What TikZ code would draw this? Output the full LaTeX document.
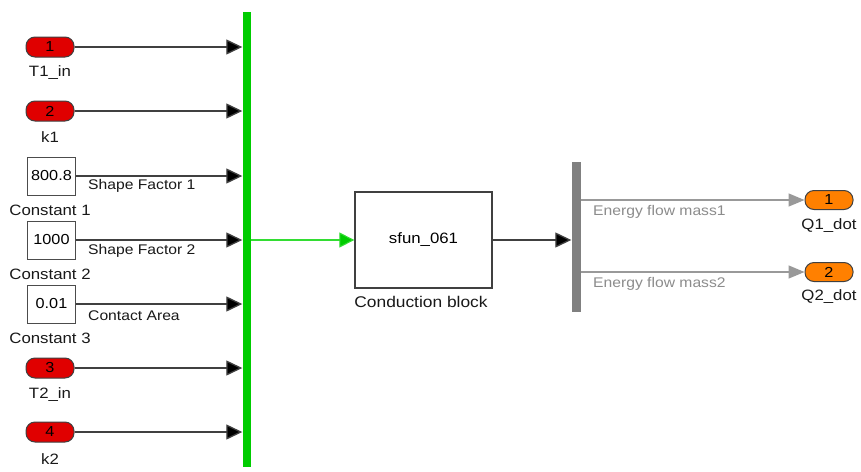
\documentclass[tikz,border=0pt]{standalone}
\usepackage{fontspec}
\setmainfont{Liberation Sans}[FakeStretch=1.12]
\usetikzlibrary{arrows.meta}
\definecolor{inred}{HTML}{E00000}
\definecolor{outorange}{HTML}{FF8000}
\definecolor{busgreen}{HTML}{00CC00}
\definecolor{siggreen}{HTML}{33DD33}
\definecolor{wire}{HTML}{404040}
\definecolor{graywire}{HTML}{999999}
\definecolor{graytext}{HTML}{8C8C8C}
\definecolor{demuxgray}{HTML}{808080}
\tikzset{
  lbl/.style={font=\fontsize{15}{17}\selectfont, text=black!90, inner sep=0pt},
  siglbl/.style={font=\fontsize{14}{16}\selectfont, text=black!90, inner sep=0pt, anchor=west},
  inport/.style={draw=black!75, line width=1pt, fill=inred, rounded corners=9pt,
    minimum width=48pt, minimum height=20pt, inner sep=0pt, font=\fontsize{14.5}{16}\selectfont},
  outport/.style={draw=black!75, line width=1pt, fill=outorange, rounded corners=9pt,
    minimum width=48pt, minimum height=19pt, inner sep=0pt, font=\fontsize{14.5}{16}\selectfont},
  constbox/.style={draw=black!70, line width=1pt, fill=white, minimum width=48pt,
    minimum height=38pt, inner sep=0pt, font=\fontsize{14.5}{16}\selectfont},
  sig/.style={draw=wire, line width=1.3pt, -{Triangle[length=16pt,width=15pt,fill=black]}},
  graysig/.style={draw=graywire, line width=1.3pt, -{Triangle[length=16pt,width=13pt,fill=graywire]}},
  greensig/.style={draw=siggreen, line width=1.1pt, -{Triangle[length=15pt,width=15pt,fill=busgreen]}}
}
\begin{document}
\begin{tikzpicture}[x=1pt,y=-1pt]
\useasboundingbox[fill=white] (0,0) rectangle (861,471);

% bus (mux)
\node[fill=busgreen, minimum width=8pt, minimum height=455pt, inner sep=0pt] (bus) at (246.5,239.5) {};

% inputs
\node[inport] (in1) at (50,47) {1};
\node[lbl] (in1l) at (50,73) {T1\_in};
\node[inport] (in2) at (50,111) {2};
\node[lbl] (in2l) at (50,137) {k1};
\node[constbox] (c1) at (51.5,176) {800.8};
\node[lbl] (c1l) at (50,210) {Constant 1};
\node[constbox] (c2) at (51.5,240) {1000};
\node[lbl] (c2l) at (50,274) {Constant 2};
\node[constbox] (c3) at (51.5,304) {0.01};
\node[lbl] (c3l) at (50,338) {Constant 3};
\node[inport] (in3) at (50,368) {3};
\node[lbl] (in3l) at (50,395) {T2\_in};
\node[inport] (in4) at (50,432) {4};
\node[lbl] (in4l) at (50,459) {k2};

\draw[sig] (in1.east) -- (bus.west |- in1.east);
\draw[sig] (in2.east) -- (bus.west |- in2.east);
\draw[sig] (c1.east) -- (bus.west |- c1.east);
\draw[sig] (c2.east) -- (bus.west |- c2.east);
\draw[sig] (c3.east) -- (bus.west |- c3.east);
\draw[sig] (in3.east) -- (bus.west |- in3.east);
\draw[sig] (in4.east) -- (bus.west |- in4.east);

\node[siglbl] (s1) at (88,186) {Shape Factor 1};
\node[siglbl] (s2) at (88,251) {Shape Factor 2};
\node[siglbl] (s3) at (88,316) {Contact Area};

% conduction block
\node[draw=black!75, line width=1.3pt, fill=white, minimum width=137pt, minimum height=96pt,
  inner sep=0pt, font=\fontsize{15}{17}\selectfont] (blk) at (423.5,240) {sfun\_061};
\node[lbl, font=\fontsize{15.5}{17}\selectfont] (blkl) at (421,302) {Conduction block};

\draw[greensig] (bus.east |- blk.west) -- (blk.west);

% demux
\node[fill=demuxgray, minimum width=9pt, minimum height=150pt, inner sep=0pt] (dmx) at (576,237) {};
\draw[sig] (blk.east) -- (dmx.west |- blk.east);

% outputs
\node[outport] (o1) at (829,200) {1};
\node[lbl] (o1l) at (829,226) {Q1\_dot};
\node[outport] (o2) at (829,272) {2};
\node[lbl] (o2l) at (829,297) {Q2\_dot};

\draw[graysig] (dmx.east |- o1.west) -- (o1.west);
\draw[graysig] (dmx.east |- o2.west) -- (o2.west);
\node[siglbl, text=graytext] (e1) at (593,212) {Energy flow mass1};
\node[siglbl, text=graytext] (e2) at (593,284) {Energy flow mass2};
\end{tikzpicture}
\end{document}
